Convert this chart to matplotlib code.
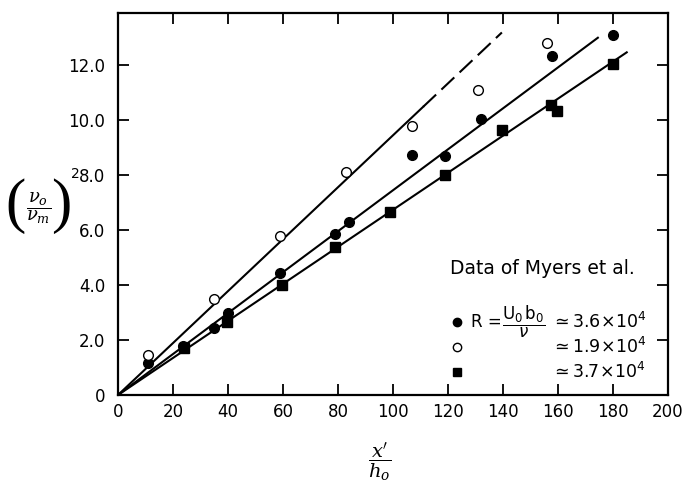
import matplotlib
matplotlib.use("Agg")
import matplotlib.pyplot as plt
import numpy as np

# data (Myers et al.)
x_filled = [11, 23.5, 35, 40, 59, 79, 84, 107, 119, 132, 158, 180]
y_filled = [1.15, 1.8, 2.45, 3.0, 4.45, 5.85, 6.3, 8.75, 8.7, 10.05, 12.35, 13.1]

x_open = [11, 35, 59, 83, 107, 131, 156]
y_open = [1.45, 3.5, 5.8, 8.1, 9.8, 11.1, 12.8]

x_square = [24, 39.5, 59.5, 79, 99, 119, 139.5, 157.5, 159.5, 180]
y_square = [1.7, 2.65, 4.0, 5.4, 6.65, 8.0, 9.65, 10.55, 10.35, 12.05]

# fitted straight lines through the origin
slope_open = 0.0945
slope_filled = 0.0745
slope_square = 0.0674
open_solid_end = 111
open_dash_end = 139.6
filled_end = 174.5
square_end = 185

x_ticks = [0, 20, 40, 60, 80, 100, 120, 140, 160, 180, 200]
y_ticks = [0, 2, 4, 6, 8, 10, 12]
y_ticklabels = ["0", "2.0", "4.0", "6.0", "8.0", "10.0", "12.0"]

W, H = 688, 493
fig = plt.figure(figsize=(W / 100, H / 100), dpi=100)
ax = fig.add_axes([0.1715, 0.1988, 0.7994, 0.7748])

lw = 1.5
xs = np.array([0, open_solid_end])
ax.plot(xs, slope_open * xs, color="black", lw=lw)
xs = np.array([open_solid_end, open_dash_end])
ax.plot(xs, slope_open * xs, color="black", lw=lw, linestyle=(0, (8.5, 3.5)))
xs = np.array([0, filled_end])
ax.plot(xs, slope_filled * xs, color="black", lw=lw)
xs = np.array([0, square_end])
ax.plot(xs, slope_square * xs, color="black", lw=lw)

ax.plot(x_square, y_square, "s", color="black", ms=6.5, ls="none")
ax.plot(x_filled, y_filled, "o", color="black", ms=7, ls="none")
ax.plot(x_open, y_open, "o", mfc="white", mec="black", mew=1.0, ms=7, ls="none")

ax.set_xlim(0, 200)
ax.set_ylim(0, 13.9)
ax.set_xticks(x_ticks)
ax.set_yticks(y_ticks)
ax.set_yticklabels(y_ticklabels)
ax.tick_params(direction="in", length=8, width=1.3, top=True, right=True,
               labelsize=12, colors="black")
ax.tick_params(axis="y", pad=9)
ax.tick_params(axis="x", pad=6)
for s in ax.spines.values():
    s.set_linewidth(1.6)

# y label built from pieces so the parentheses can be tall
def fig_xy(px, py):
    return px / W, 1 - py / H

fig.text(*fig_xy(16, 206), "(", fontsize=44, family="Liberation Serif",
         ha="center", va="center")
fig.text(*fig_xy(71, 206), ")", fontsize=44, family="Liberation Serif",
         ha="right", va="center")
fig.text(*fig_xy(38.5, 208), r"$\dfrac{\nu_o}{\nu_m}$", fontsize=13,
         math_fontfamily="dejavuserif", ha="center", va="center")
fig.text(*fig_xy(71.5, 174), "2", fontsize=10, ha="left", va="center")

ax.set_xlabel(r"$\dfrac{x'}{h_o}$", fontsize=14, math_fontfamily="dejavuserif",
              va="center")
ax.xaxis.set_label_coords(0.476, -0.175)

# annotation block in lower right
ax.text(120.7, 4.62, "Data of Myers et al.", fontsize=13.5, ha="left", va="center")
ax.plot([123.3], [2.65], "o", color="black", ms=6)
ax.plot([123.3], [1.75], "o", mfc="white", mec="black", mew=1.0, ms=6)
ax.plot([123.3], [0.85], "s", color="black", ms=5.5)
ax.text(128.5, 2.65, "R =", fontsize=12, ha="left", va="center")
ax.text(147.6, 2.65, r"$\dfrac{\mathrm{U_0\,b_0}}{\nu}$", fontsize=12,
        ha="center", va="center", math_fontfamily="dejavusans")
ax.text(157.5, 2.65, r"$\simeq 3.6\!\times\!10^4$", fontsize=12.5, ha="left", va="center",
        math_fontfamily="dejavusans")
ax.text(157.5, 1.75, r"$\simeq 1.9\!\times\!10^4$", fontsize=12.5, ha="left", va="center",
        math_fontfamily="dejavusans")
ax.text(157.5, 0.85, r"$\simeq 3.7\!\times\!10^4$", fontsize=12.5, ha="left", va="center",
        math_fontfamily="dejavusans")

fig.savefig("out.png", dpi=100)
